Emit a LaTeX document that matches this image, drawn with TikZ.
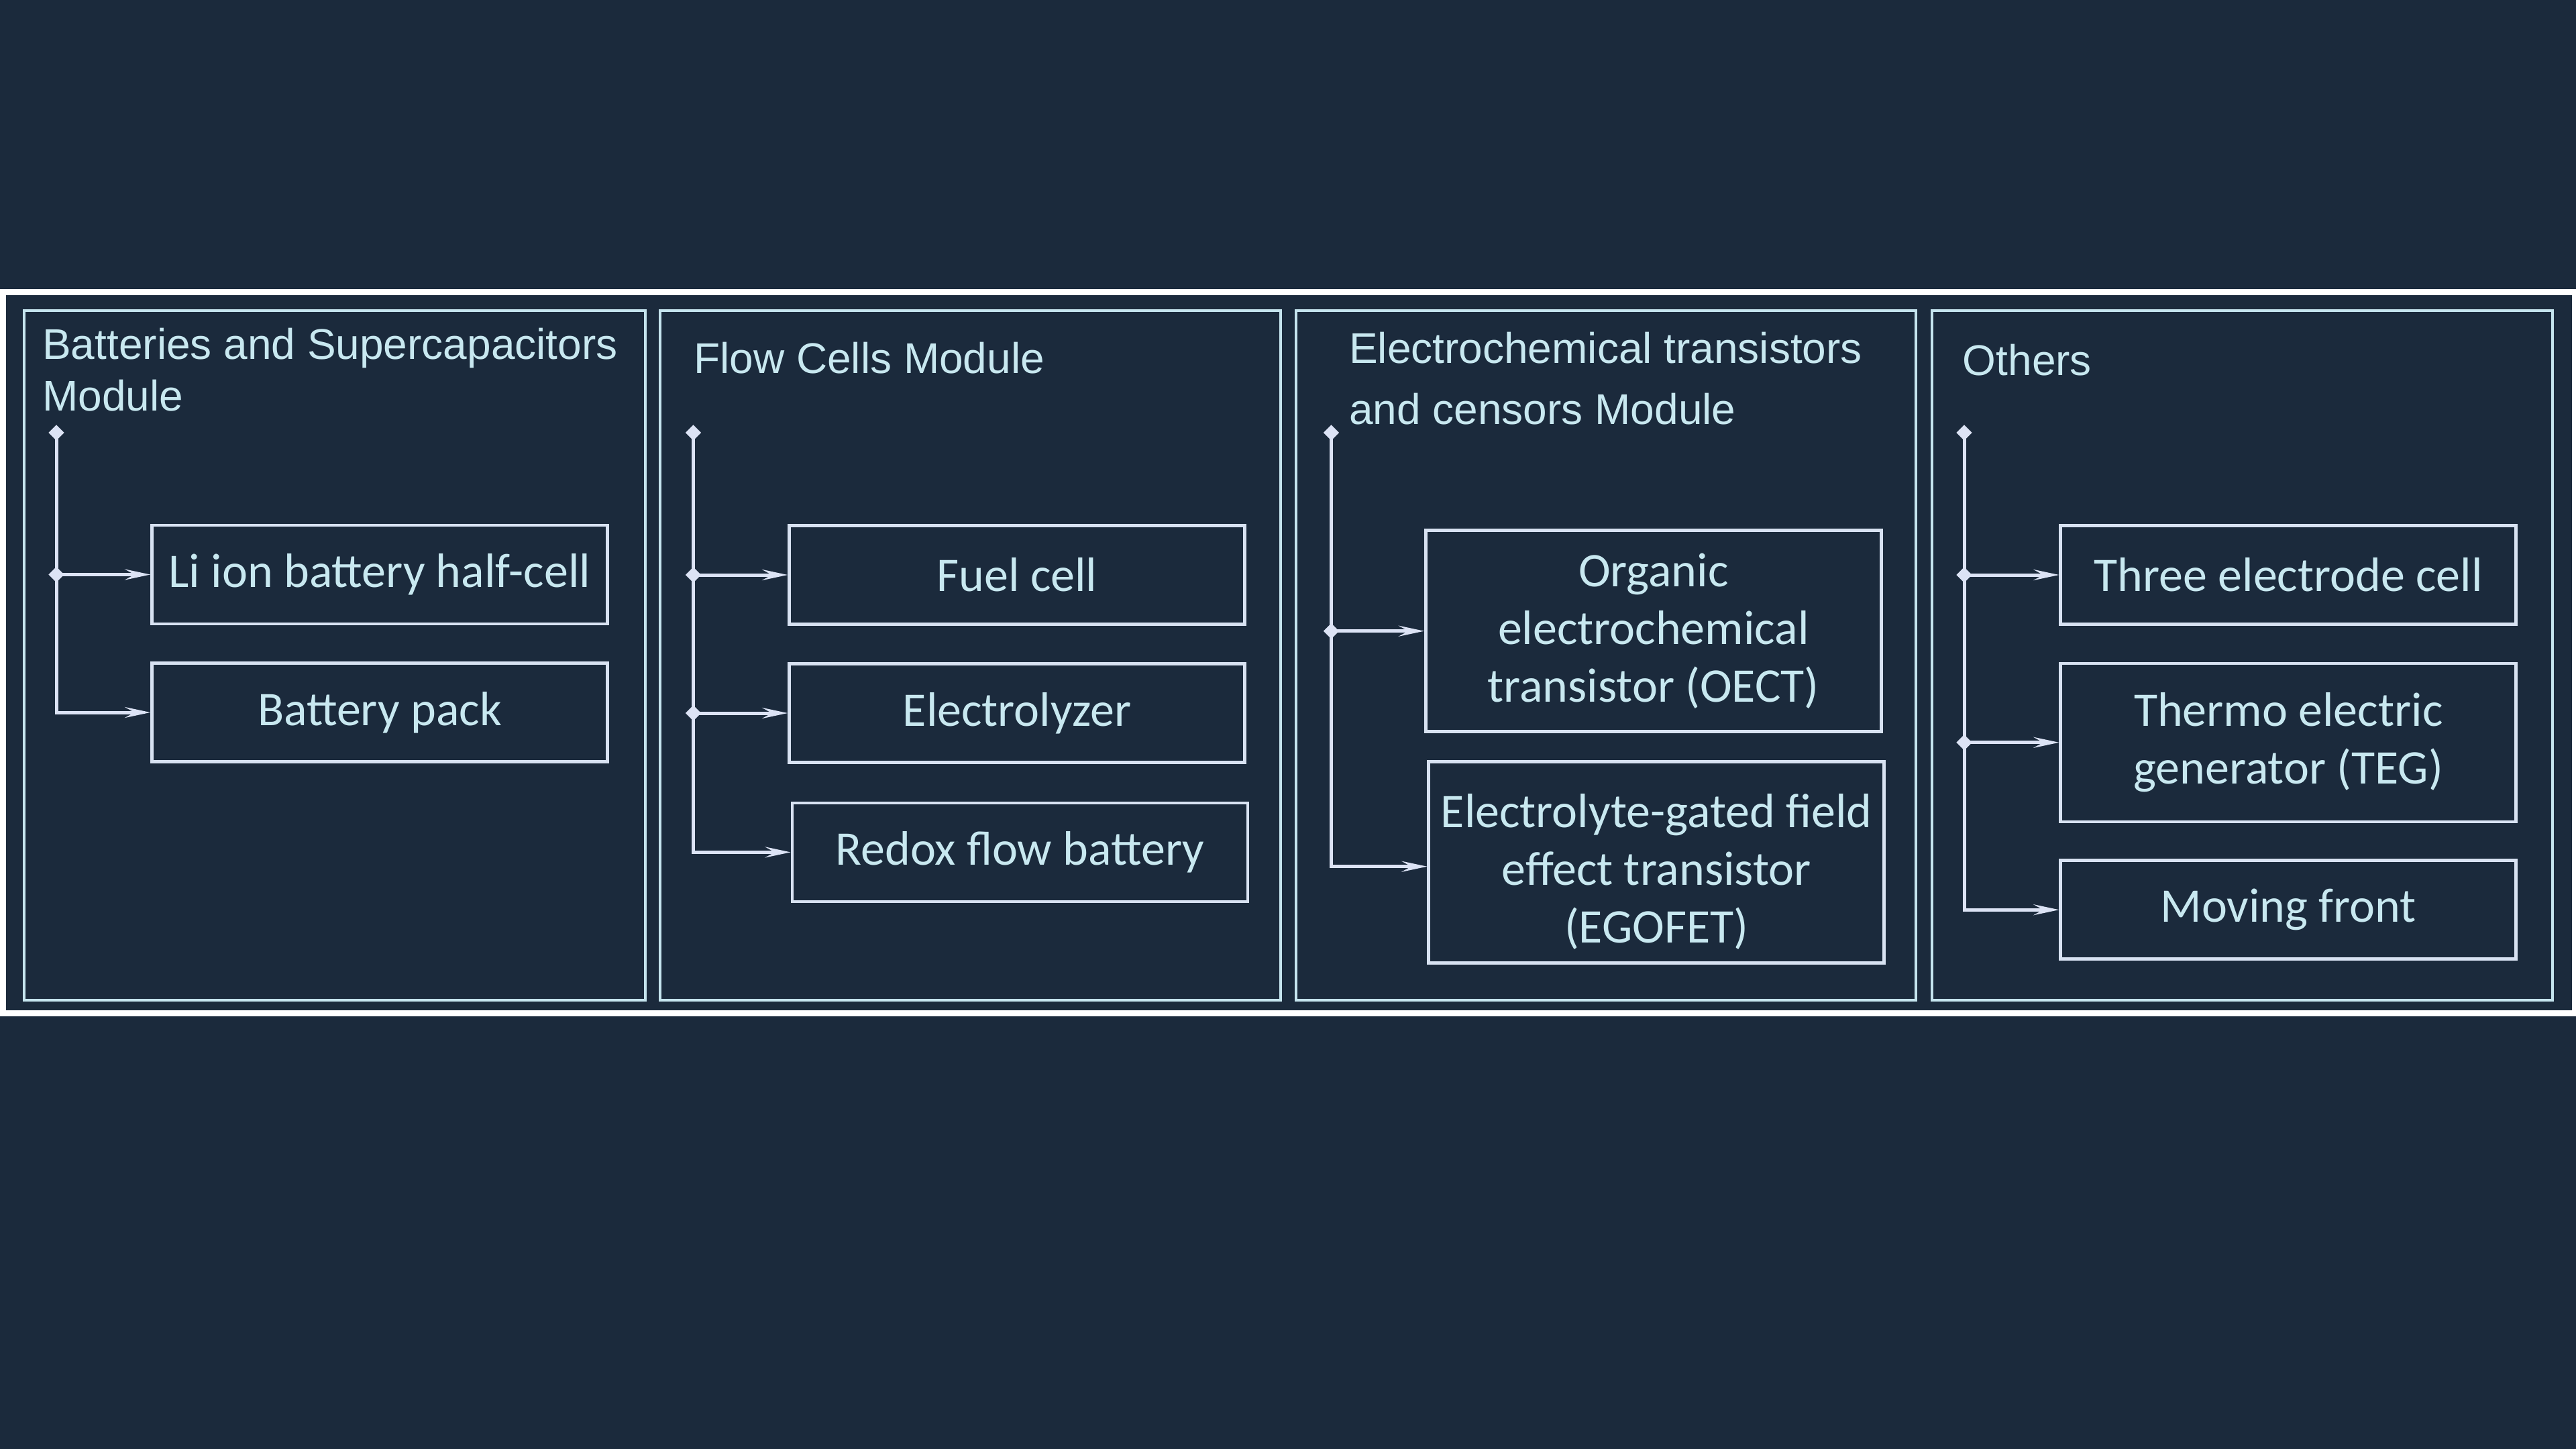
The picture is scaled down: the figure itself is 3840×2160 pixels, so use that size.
\documentclass[tikz,border=0pt]{standalone}
\usepackage{fontspec}
\setmainfont{Carlito}
\newfontfamily\ttlfont{Liberation Sans}
\usetikzlibrary{arrows.meta,shapes.geometric}
\definecolor{bgc}{HTML}{1B2A3C}
\definecolor{panelc}{HTML}{C5E4EE}
\definecolor{boxc}{HTML}{D8E2F2}
\definecolor{txtc}{HTML}{C8E8F0}
\definecolor{arrc}{HTML}{DCE3F5}
\begin{document}
\begin{tikzpicture}[x=0.25pt,y=-0.25pt,
  panel/.style={draw=panelc, line width=1pt},
  ttl/.style={anchor=base west, inner sep=0pt, text=txtc, align=left, font=\ttlfont\fontsize{16}{19.25}\selectfont},
  itembox/.style={draw=boxc, line width=1.15pt, inner sep=0pt, text=txtc, align=center,
    font=\fontsize{18}{21.5}\selectfont, minimum width=679*0.25pt, minimum height=147*0.25pt},
  tallbox/.style={itembox, minimum height=300*0.25pt},
  conn/.style={draw=arrc, line width=1.25pt},
  arr/.style={conn, -{Stealth[length=9.5pt,width=4pt,inset=3.6pt]}},
  dia/.style={diamond, fill=arrc, inner sep=0pt, minimum width=6pt, minimum height=6pt},
]
\useasboundingbox (0,0) rectangle (3840,2160);
\fill[bgc] (0,0) rectangle (3840,2160);
% outer frame
\draw[white, line width=2.25pt] (4.5,435.5) rectangle (3838,1510);
% panels
\draw[panel] (35.5,463) rectangle (961.5,1491);
\draw[panel] (983.5,463) rectangle (1909,1491);
\draw[panel] (1931.5,463) rectangle (2855.5,1491);
\draw[panel] (2879.5,463) rectangle (3805,1491);

% titles (base anchor = baseline of the last line)
\node[ttl] (h1) at (62.5,612.6) {Batteries and Supercapacitors\\Module};
\node[ttl] (h2) at (1033.4,556.7) {Flow Cells Module};
\node[ttl, font=\ttlfont\fontsize{16}{22.75}\selectfont] (h3) at (2010.4,633) {Electrochemical transistors\\and censors Module};
\node[ttl] (h4) at (2925,560) {Others};

% ---------- panel 1
\node[itembox] (li) at (566,856.5) {Li ion battery half-cell};
\node[itembox] (pack) at (566,1062) {Battery pack};
\node[dia] (t1) at (84,645) {};
\draw[conn] (t1.center) -- (t1.center |- li.west);
\draw[arr] (t1.center |- li.west) -- (li.west);
\draw[arr] (t1.center |- li.west) |- (pack.west);
\node[dia] (k11) at (t1.center |- li.west) {};

% ---------- panel 2
\node[itembox] (fuel) at (1516,857) {Fuel cell};
\node[itembox] (elyz) at (1516,1063) {Electrolyzer};
\node[itembox] (redox) at (1520.4,1270.4) {Redox flow battery};
\node[dia] (t2) at (1033.5,645) {};
\draw[conn] (t2.center) -- (t2.center |- fuel.west);
\draw[arr] (t2.center |- fuel.west) -- (fuel.west);
\draw[arr] (t2.center |- elyz.west) -- (elyz.west);
\draw[arr] (t2.center |- fuel.west) |- (redox.west);
\node[dia] (k21) at (t2.center |- fuel.west) {};
\node[dia] (k22) at (t2.center |- elyz.west) {};

% ---------- panel 3
\node[tallbox] (oect) at (2464.8,940.7) {Organic\\electrochemical\\transistor (OECT)};
\node[tallbox] (egofet) at (2469.2,1285.7) {\rule{0pt}{19.5pt}Electrolyte-gated field\\effect transistor\\(EGOFET)};
\node[dia] (t3) at (1984.5,645) {};
\draw[conn] (t3.center) -- (t3.center |- oect.west);
\draw[arr] (t3.center |- oect.west) -- (oect.west);
\draw[arr] (t3.center |- oect.west) |- ([yshift=-6*0.25pt]egofet.west);
\node[dia] (k31) at (t3.center |- oect.west) {};

% ---------- panel 4
\node[itembox] (three) at (3411.2,857) {Three electrode cell};
\node[itembox, minimum height=236*0.25pt] (teg) at (3411.2,1106.8) {Thermo electric\\generator (TEG)};
\node[itembox] (moving) at (3411.2,1356.2) {Moving front};
\node[dia] (t4) at (2928,645) {};
\draw[conn] (t4.center) -- (t4.center |- three.west);
\draw[arr] (t4.center |- three.west) -- (three.west);
\draw[arr] (t4.center |- teg.west) -- (teg.west);
\draw[arr] (t4.center |- three.west) |- (moving.west);
\node[dia] (k41) at (t4.center |- three.west) {};
\node[dia] (k42) at (t4.center |- teg.west) {};
\end{tikzpicture}
\end{document}
